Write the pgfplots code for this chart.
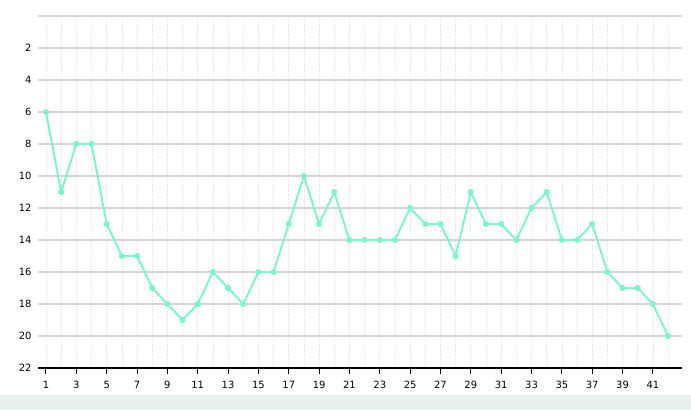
\documentclass[border=0pt]{standalone}
\usepackage{pgfplots}
\pgfplotsset{compat=1.18}
\usepackage{fontspec}
\setmainfont{DejaVu Sans}
\definecolor{linec}{HTML}{80F2D3}
\definecolor{gridc}{HTML}{D4D4D4}
\definecolor{vgridc}{HTML}{DCDCDC}
\definecolor{stripc}{HTML}{E8F0F0}
\begin{document}
\begin{tikzpicture}[x=1bp,y=1bp]
\useasboundingbox (0,0) rectangle (691,410);
\fill[stripc] (0,0) rectangle (691,15);
\begin{axis}[
  at={(38bp,42bp)}, anchor=south west,
  scale only axis, width=644bp, height=352bp,
  xmin=0.473, xmax=42.92, ymin=0, ymax=22,
  y dir=reverse,
  /pgf/number format/assume math mode=true,
  axis line style={draw=none},
  xtick={1,3,...,41},
  minor xtick={1,...,42},
  ytick={0,2,...,22},
  yticklabels={,2,4,6,8,10,12,14,16,18,20,22},
  ymajorgrids,
  xmajorgrids, xminorgrids,
  major x grid style={vgridc, dash pattern=on 1bp off 1.5bp, line width=0.7bp},
  minor x grid style={vgridc, dash pattern=on 1bp off 1.5bp, line width=0.7bp},
  major y grid style={gridc, line width=1.2bp},
  major tick length=0pt,
  minor tick length=0pt,
  xtick pos=left,
  ytick pos=left,
  tick label style={font=\fontsize{10}{12}\selectfont},
  xticklabel style={yshift=-10bp},
  yticklabel style={xshift=-3bp},
  clip=false,
]
\addplot[linec, line width=2bp, mark=*, mark size=2bp, mark options={fill=linec, draw=linec}] coordinates {
(1,6) (2,11) (3,8) (4,8) (5,13) (6,15) (7,15) (8,17) (9,18) (10,19)
(11,18) (12,16) (13,17) (14,18) (15,16) (16,16) (17,13) (18,10) (19,13) (20,11)
(21,14) (22,14) (23,14) (24,14) (25,12) (26,13) (27,13) (28,15) (29,11) (30,13)
(31,13) (32,14) (33,12) (34,11) (35,14) (36,14) (37,13) (38,16) (39,17) (40,17)
(41,18) (42,20)
};
\draw[black, line width=2bp] (axis cs:0.473,22) -- (axis cs:42.92,22);
\pgfplotsinvokeforeach{1,3,...,41}{
  \draw[black, line width=1bp] (axis cs:#1,22) -- ([yshift=-6bp]axis cs:#1,22);
}
\end{axis}
\end{tikzpicture}
\end{document}
